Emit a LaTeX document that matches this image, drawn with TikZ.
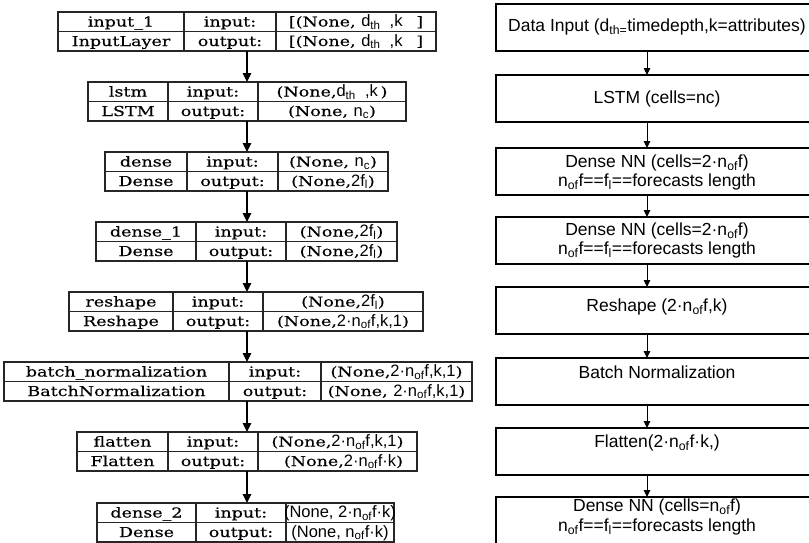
\documentclass[tikz,border=0pt]{standalone}
\usepackage{fontspec}
\setmainfont{DejaVu Serif}
\newfontfamily\kerasfont[FakeStretch=1.28,FakeBold=0.3]{DejaVu Serif}
\newfontfamily\lsans{Liberation Sans}
\usetikzlibrary{arrows.meta}
\newcommand\ks{\kerasfont\fontsize{13.7}{15}\selectfont}
\newcommand\sa{\lsans\fontsize{16.5}{18}\selectfont}
\newcommand\rs{\lsans\fontsize{17.5}{19.5}\selectfont}
\newcommand\lsub[1]{\textsubscript{#1}}
\newcommand\LGeom[6]{% id ytop x0 d1 d2 x3
  \node[lbox, minimum width={#6-#3}, anchor=north west] (#1) at (#3,#2) {};
  \draw[lline] (#4,#2) -- (#4,{#2+39});
  \draw[lline] (#5,#2) -- (#5,{#2+39});
  \draw[lline] (#3,{#2+19.5}) -- (#6,{#2+19.5});
  \coordinate (#1-c1) at ({(#3+#4)/2},{#2+14.5});
  \coordinate (#1-c2) at ({(#4+#5)/2},{#2+14.5});
  \coordinate (#1-c3) at ({(#5+#6)/2},{#2+14.5});
}
\newcommand\LText[5]{% id name class in out
  \node[ktext] (#1-n) at (#1-c1) {#2};
  \node[ktext, yshift=-19.5pt] (#1-k) at (#1-c1) {#3};
  \node[ktext] (#1-i) at (#1-c2) {input:};
  \node[ktext, yshift=-19.5pt] (#1-o) at (#1-c2) {output:};
  \node[ktext] (#1-iv) at (#1-c3) {#4};
  \node[ktext, yshift=-19.5pt] (#1-ov) at (#1-c3) {#5};
}
\begin{document}
\begin{tikzpicture}[x=1pt,y=-1pt,
  lbox/.style={draw=black!85, line width=1.1pt, minimum height=39pt, inner sep=0pt, outer sep=0pt},
  lline/.style={draw=black!85, line width=1.1pt},
  ktext/.style={inner sep=0pt, anchor=base, font=\ks},
  rbox/.style={draw=black, line width=1.4pt, inner sep=0pt, outer sep=0pt, minimum width=324pt, minimum height=47pt, anchor=north west},
  rtext/.style={inner sep=0pt, align=center, font=\rs},
  larr/.style={draw=black, line width=1.2pt, -{Triangle[length=9pt,width=8.5pt]}},
  rarr/.style={draw=black, line width=0.9pt, -{Triangle[length=7pt,width=6.5pt]}}]
\path[use as bounding box, clip] (0,0) rectangle (809,542);
\fill[white] (0,0) rectangle (809,542);
\coordinate (ax) at (247,0);
\coordinate (bx) at (647,0);
% left column
\LGeom{L1}{12}{58}{184}{276}{436}
\LText{L1}{input\_1}{InputLayer}{[(None,\ {\sa d\lsub{th}\ \ ,k\ \ \ }]}{[(None,\ {\sa d\lsub{th}\ \ ,k\ \ \ }]}
\LGeom{L2}{82}{88}{168}{258}{406}
\LText{L2}{lstm}{LSTM}{(None,{\sa d\lsub{th}\ \ ,k\,})}{(None, {\sa n\lsub{c}})}
\LGeom{L3}{152}{105}{187}{278}{388}
\LText{L3}{dense}{Dense}{(None, {\sa n\lsub{c}})}{(None,{\sa 2f\lsub{l}})}
\LGeom{L4}{222}{96}{196}{286}{397}
\LText{L4}{dense\_1}{Dense}{(None,{\sa 2f\lsub{l}})}{(None,{\sa 2f\lsub{l}})}
\LGeom{L5}{292}{69}{173}{263}{423}
\LText{L5}{reshape}{Reshape}{(None,{\sa 2f\lsub{l}})}{(None,{\sa 2·n\lsub{of}f,k,1})}
\LGeom{L6}{362}{4}{229}{321}{472}
\LText{L6}{batch\_normalization}{BatchNormalization}{(None,{\sa 2·n\lsub{of}f,k,1})}{(None, {\sa 2·n\lsub{of}f,k,1})}
\LGeom{L7}{432}{77}{168}{258}{417}
\LText{L7}{flatten}{Flatten}{(None,{\sa 2·n\lsub{of}f,k,1})}{\hspace*{12pt}(None,{\sa 2·n\lsub{of}f·k})}
\LGeom{L8}{503}{97}{196}{286}{394}
\LText{L8}{dense\_2}{Dense}{{\sa (None, 2·n\lsub{of}f·k)}}{{\sa (None, n\lsub{of}f·k)}}
\foreach \a/\b in {L1/L2,L2/L3,L3/L4,L4/L5,L5/L6,L6/L7,L7/L8}
  \draw[larr] (\a.south -| ax) -- (\b.north -| ax);
% right column
\node[rbox] (R1) at (496,4) {};
\node[rbox] (R2) at (496,75) {};
\node[rbox] (R3) at (496,148) {};
\node[rbox] (R4) at (496,217) {};
\node[rbox] (R5) at (496,287) {};
\node[rbox] (R6) at (496,358) {};
\node[rbox] (R7) at (496,428) {};
\node[rbox] (R8) at (496,497) {};
\node[rtext] (R1t) at (657,27) {Data Input (d\lsub{th=}timedepth,k=attributes)};
\node[rtext] (R2t) at (657,99) {LSTM (cells=nc)};
\node[rtext] (R3t) at (657,172.5) {Dense NN (cells=2·n\lsub{of}f)\\n\lsub{of}f==f\lsub{l}==forecasts length};
\node[rtext] (R4t) at (657,240.5) {Dense NN (cells=2·n\lsub{of}f)\\n\lsub{of}f==f\lsub{l}==forecasts length};
\node[rtext] (R5t) at (657,307) {Reshape (2·n\lsub{of}f,k)};
\node[rtext] (R6t) at (657,372) {Batch Normalization};
\node[rtext] (R7t) at (657,443) {Flatten(2·n\lsub{of}f·k,)};
\node[rtext] (R8t) at (657,517) {Dense NN (cells=n\lsub{of}f)\\n\lsub{of}f==f\lsub{l}==forecasts length};
\foreach \a/\b in {R1/R2,R2/R3,R3/R4,R4/R5,R5/R6,R6/R7,R7/R8}
  \draw[rarr] (\a.south -| bx) -- (\b.north -| bx);
\end{tikzpicture}
\end{document}
